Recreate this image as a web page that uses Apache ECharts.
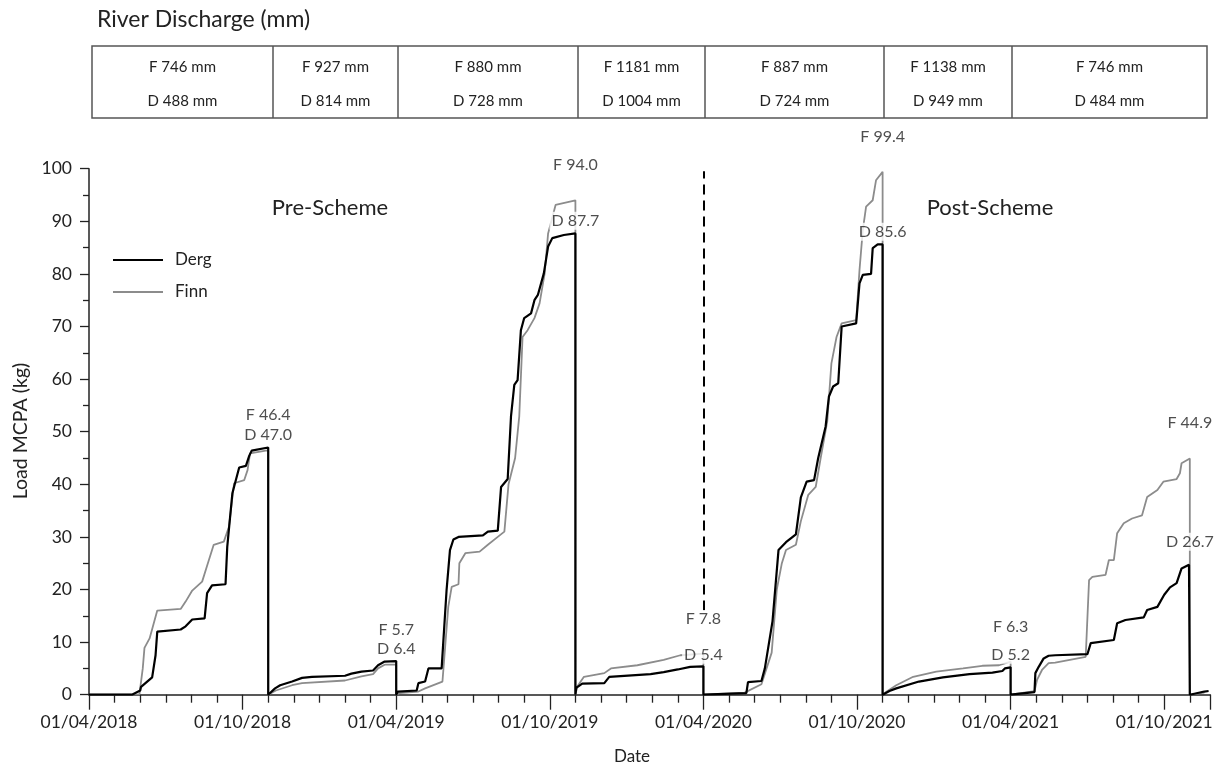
<!DOCTYPE html>
<html>
<head>
<meta charset="utf-8">
<script src="https://cdn.jsdelivr.net/npm/echarts@6/dist/echarts.min.js"></script>
<style>html,body{margin:0;padding:0;background:#fff}#c{width:1215px;height:769px}</style>
</head>
<body>
<div id="c"></div>
<script>
// ---------------- DATA ----------------
const xTickLabels = ['01/04/2018','01/10/2018','01/04/2019','01/10/2019','01/04/2020','01/10/2020','01/04/2021','01/10/2021'];

const dischargeF = ['F 746 mm','F 927 mm','F 880 mm','F 1181 mm','F 887 mm','F 1138 mm','F 746 mm'];
const dischargeD = ['D 488 mm','D 814 mm','D 728 mm','D 1004 mm','D 724 mm','D 949 mm','D 484 mm'];

const seriesNames = ['Derg','Finn'];

const dergLoad = [
['2018-04-01',0],['2018-05-22',0],['2018-06-01',0.8],['2018-06-02',1.5],['2018-06-15',3.3],['2018-06-19',7.5],['2018-06-21',12.0],['2018-07-19',12.4],['2018-07-25',13.0],['2018-08-02',14.3],['2018-08-17',14.5],['2018-08-20',19.3],['2018-08-26',20.8],['2018-09-11',21.0],['2018-09-13',28.1],['2018-09-19',38.3],['2018-09-27',43.2],['2018-10-05',43.5],['2018-10-09',45.4],['2018-10-12',46.4],['2018-11-01',47.0],['2018-11-01',0],
['2018-11-09',1.2],['2018-11-15',1.8],['2018-11-29',2.5],['2018-12-11',3.2],['2018-12-23',3.4],['2019-02-01',3.6],['2019-02-08',4.0],['2019-02-19',4.4],['2019-03-04',4.6],['2019-03-10',5.6],['2019-03-18',6.3],['2019-04-01',6.4],['2019-04-01',0],
['2019-04-03',0.6],['2019-04-25',0.8],['2019-04-27',2.2],['2019-05-05',2.5],['2019-05-09',5.0],['2019-05-25',5.0],['2019-05-31',19.9],['2019-06-04',27.5],['2019-06-08',29.5],['2019-06-14',30.0],['2019-07-13',30.3],['2019-07-19',31.0],['2019-07-31',31.2],['2019-08-04',39.5],['2019-08-12',41.0],['2019-08-16',52.9],['2019-08-20',58.9],['2019-08-24',59.8],['2019-08-28',69.3],['2019-09-01',71.6],['2019-09-09',72.5],['2019-09-13',75.0],['2019-09-17',76.0],['2019-09-24',80.1],['2019-09-29',85.2],['2019-10-04',86.8],['2019-10-18',87.4],['2019-11-01',87.7],['2019-11-01',0],
['2019-11-02',1.3],['2019-11-09',2.1],['2019-12-05',2.2],['2019-12-11',3.4],['2020-01-30',3.9],['2020-02-14',4.3],['2020-03-01',4.8],['2020-03-16',5.3],['2020-04-01',5.4],['2020-04-01',0],
['2020-05-22',0.3],['2020-05-24',2.4],['2020-06-09',2.6],['2020-06-13',5.0],['2020-06-22',14.0],['2020-06-29',27.5],['2020-07-08',29.0],['2020-07-20',30.5],['2020-07-26',37.5],['2020-08-02',40.5],['2020-08-11',40.8],['2020-08-16',45.0],['2020-08-25',51.0],['2020-08-29',56.7],['2020-09-03',58.6],['2020-09-09',59.2],['2020-09-13',70.0],['2020-09-30',70.6],['2020-10-04',78.2],['2020-10-08',79.8],['2020-10-18',80.0],['2020-10-20',84.9],['2020-10-26',85.6],['2020-11-01',85.6],['2020-11-01',0],
['2020-11-09',0.7],['2020-11-17',1.2],['2020-12-14',2.5],['2021-01-12',3.3],['2021-02-12',3.9],['2021-03-10',4.2],['2021-03-22',4.5],['2021-03-25',5.0],['2021-04-01',5.2],['2021-04-01',0],
['2021-04-29',0.5],['2021-04-30',4.1],['2021-05-04',5.3],['2021-05-10',6.9],['2021-05-16',7.4],['2021-05-24',7.5],['2021-07-01',7.7],['2021-07-05',9.8],['2021-08-02',10.4],['2021-08-06',13.6],['2021-08-16',14.2],['2021-09-07',14.7],['2021-09-11',16.1],['2021-09-23',16.7],['2021-10-01',19.0],['2021-10-08',20.4],['2021-10-16',21.2],['2021-10-22',24.0],['2021-10-31',24.7],['2021-11-01',24.8],['2021-11-01',0],['2021-11-18',0.6],['2021-11-23',0.7]
];

const finnLoad = [
['2018-04-01',0],['2018-05-31',0],['2018-06-01',0.3],['2018-06-04',5.0],['2018-06-06',8.9],['2018-06-12',10.7],['2018-06-21',16.0],['2018-06-23',16.3],['2018-07-19',16.3],['2018-07-25',17.7],['2018-08-02',19.8],['2018-08-14',21.5],['2018-08-20',24.5],['2018-08-28',28.5],['2018-09-09',29.1],['2018-09-15',31.9],['2018-09-21',40.2],['2018-10-03',40.8],['2018-10-07',42.7],['2018-10-10',45.9],['2018-10-29',46.4],['2018-11-01',46.4],['2018-11-01',0],
['2018-11-10',0.8],['2018-11-29',1.8],['2018-12-11',2.2],['2019-02-01',2.7],['2019-02-19',3.5],['2019-03-04',3.9],['2019-03-10',5.0],['2019-03-18',5.7],['2019-04-01',5.7],['2019-04-01',0],
['2019-04-05',0.3],['2019-04-27',0.6],['2019-05-05',1.2],['2019-05-26',2.5],['2019-06-02',16.7],['2019-06-06',20.5],['2019-06-14',21.0],['2019-06-15',25.0],['2019-06-22',26.9],['2019-07-09',27.2],['2019-07-19',28.5],['2019-07-31',30.0],['2019-08-08',31.0],['2019-08-13',40.0],['2019-08-21',45.0],['2019-08-26',52.9],['2019-08-30',68.0],['2019-09-05',69.3],['2019-09-13',71.6],['2019-09-19',74.4],['2019-09-25',80.1],['2019-09-29',87.7],['2019-10-08',93.1],['2019-11-01',94.0],['2019-11-01',0],
['2019-11-03',1.5],['2019-11-11',3.4],['2019-12-05',4.1],['2019-12-13',5.0],['2020-01-14',5.6],['2020-02-14',6.6],['2020-03-04',7.5],['2020-04-01',7.8],['2020-04-01',0],
['2020-05-20',0.4],['2020-06-09',2.0],['2020-06-21',8.0],['2020-06-27',20.0],['2020-07-03',25.0],['2020-07-08',27.5],['2020-07-20',28.5],['2020-07-26',33.0],['2020-08-04',38.0],['2020-08-13',39.5],['2020-08-19',45.0],['2020-08-27',52.0],['2020-09-01',63.0],['2020-09-07',68.0],['2020-09-13',70.6],['2020-09-30',71.2],['2020-10-04',80.7],['2020-10-08',88.3],['2020-10-12',92.8],['2020-10-20',94.0],['2020-10-24',97.8],['2020-11-01',99.4],['2020-11-01',0],
['2020-11-05',0.5],['2020-11-17',1.8],['2020-12-07',3.4],['2021-01-04',4.4],['2021-02-05',5.0],['2021-02-26',5.5],['2021-03-18',5.6],['2021-04-01',6.3],['2021-04-01',0],
['2021-04-29',0.7],['2021-05-02',2.8],['2021-05-08',4.7],['2021-05-16',6.0],['2021-05-24',6.1],['2021-06-29',7.2],['2021-07-03',21.8],['2021-07-07',22.4],['2021-07-23',22.8],['2021-07-27',25.6],['2021-08-02',25.6],['2021-08-06',30.7],['2021-08-14',32.6],['2021-08-24',33.5],['2021-09-05',34.1],['2021-09-11',37.6],['2021-09-23',38.9],['2021-09-30',40.5],['2021-10-16',41.0],['2021-10-20',42.1],['2021-10-22',44.0],['2021-11-01',44.9],['2021-11-01',0],['2021-11-18',0.4]
];

// end-of-period totals: [date, text, label-centre height in kg units]
const peakLabels = [
['2018-11-01','F 46.4',53.2],['2018-11-01','D 47.0',49.4],
['2019-04-01','F 5.7',12.4],['2019-04-01','D 6.4',8.7],
['2019-11-01','F 94.0',100.8],['2019-11-01','D 87.7',90.1],
['2020-04-01','F 7.8',14.4],['2020-04-01','D 5.4',7.6],
['2020-11-01','F 99.4',106.1],['2020-11-01','D 85.6',88.0],
['2021-04-01','F 6.3',12.9],['2021-04-01','D 5.2',7.6],
['2021-11-01','F 44.9',51.7],['2021-11-01','D 26.7',29.1]
];
const schemeDate = '2020-04-01';

// ---------------- helpers ----------------
function mo(s){const p=s.split('-').map(Number);const dim=new Date(p[0],p[1],0).getDate();return (p[0]-2018)*12+(p[1]-4)+(p[2]-1)/dim;}
const toXY = arr => arr.map(d=>[mo(d[0]),d[1]]);

const FONT = 'Lato';
const DERG_C = '#000', FINN_C = '#8c8c8c';
const chart = echarts.init(document.getElementById('c'), null, {renderer:'canvas'});

// table layout (pixels)
const colEdges = [92,273,398,578,705,884,1012,1207];
const tTop=46, tBot=118;
const graphics = [];
graphics.push({type:'text', left:97, top:8, style:{text:'River Discharge (mm)', font:'23px '+FONT, fill:'#222'}});
graphics.push({type:'rect', shape:{x:colEdges[0],y:tTop,width:colEdges[7]-colEdges[0],height:tBot-tTop}, style:{fill:'none',stroke:'#555',lineWidth:1.5}});
for(let i=1;i<colEdges.length-1;i++){
  graphics.push({type:'line', shape:{x1:colEdges[i],y1:tTop,x2:colEdges[i],y2:tBot}, style:{stroke:'#555',lineWidth:1.5}});
}
for(let i=0;i<dischargeF.length;i++){
  const cx=(colEdges[i]+colEdges[i+1])/2;
  graphics.push({type:'text', x:cx, y:67, style:{text:dischargeF[i], font:'15px '+FONT, fill:'#222', align:'center', verticalAlign:'middle'}});
  graphics.push({type:'text', x:cx, y:101, style:{text:dischargeD[i], font:'15px '+FONT, fill:'#222', align:'center', verticalAlign:'middle'}});
}
graphics.push({type:'text', x:330, y:208, style:{text:'Pre-Scheme', font:'22px '+FONT, fill:'#222', align:'center', verticalAlign:'middle'}});
graphics.push({type:'text', x:990, y:208, style:{text:'Post-Scheme', font:'22px '+FONT, fill:'#222', align:'center', verticalAlign:'middle'}});
graphics.push({type:'text', x:21, y:431, rotation:Math.PI/2, style:{text:'Load MCPA (kg)', font:'19.5px '+FONT, fill:'#222', align:'center', verticalAlign:'middle'}});
graphics.push({type:'text', x:632, y:757, style:{text:'Date', font:'17px '+FONT, fill:'#222', align:'center', verticalAlign:'middle'}});
// legend
const legY=[260,292], legCol=[DERG_C,FINN_C], legW=[2.2,1.8];
for(let i=0;i<2;i++){
  graphics.push({type:'line', shape:{x1:113,y1:legY[i],x2:163,y2:legY[i]}, style:{stroke:legCol[i],lineWidth:legW[i]}});
  graphics.push({type:'text', x:175, y:legY[i], style:{text:seriesNames[i], font:'17px '+FONT, fill:'#222', align:'left', verticalAlign:'middle'}});
}

const option = {
  animation:false,
  backgroundColor:'#fff',
  textStyle:{fontFamily:FONT},
  grid:{left:89, right:4.7, top:168.7, bottom:74.3, containLabel:false, outerBoundsMode:'none'},
  xAxis:{
    type:'value', min:0, max:43.8, interval:6,
    axisLine:{lineStyle:{color:'#222', width:1.5}},
    axisTick:{show:true, length:15, lineStyle:{color:'#222', width:1.3}},
    minorTick:{show:true, splitNumber:6, length:8, lineStyle:{color:'#222', width:1.3}},
    splitLine:{show:false}, minorSplitLine:{show:false},
    axisLabel:{margin:19, fontSize:17.5, color:'#222', fontFamily:FONT, hideOverlap:false,
      formatter:v=> (Math.abs(v/6-Math.round(v/6))<1e-6 ? (xTickLabels[Math.round(v/6)]||'') : '')}
  },
  yAxis:{
    type:'value', min:0, max:100, interval:10,
    axisLine:{show:true, lineStyle:{color:'#222', width:1.5}},
    axisTick:{show:true, length:9, lineStyle:{color:'#222', width:1.3}},
    minorTick:{show:true, splitNumber:2, length:6, lineStyle:{color:'#222', width:1.3}},
    splitLine:{show:false},
    axisLabel:{margin:17, fontSize:17.5, color:'#222', fontFamily:FONT}
  },
  series:[
    {name:seriesNames[1], type:'line', data:toXY(finnLoad), showSymbol:false, symbol:'none',
     lineStyle:{color:FINN_C, width:1.8}, itemStyle:{color:FINN_C}, z:2},
    {name:seriesNames[0], type:'line', data:toXY(dergLoad), showSymbol:false, symbol:'none',
     lineStyle:{color:DERG_C, width:2.2}, itemStyle:{color:DERG_C}, z:3,
     markLine:{silent:true, symbol:'none', label:{show:false},
       lineStyle:{color:'#000', width:2, type:[10,6]},
       data:[[{coord:[mo(schemeDate),16]},{coord:[mo(schemeDate),99.5]}]]}
    },
    {name:'labels', type:'scatter', data:peakLabels.map(p=>({value:[mo(p[0]),p[2]], name:p[1]})),
     symbolSize:0, clip:false, z:10, silent:true,
     label:{show:true, position:'inside', formatter:p=>p.name, fontSize:16, color:'#222', fontFamily:FONT,
       backgroundColor:'#fff', padding:[1,2]}}
  ],
  graphic:graphics
};
chart.setOption(option);
</script>
</body>
</html>
